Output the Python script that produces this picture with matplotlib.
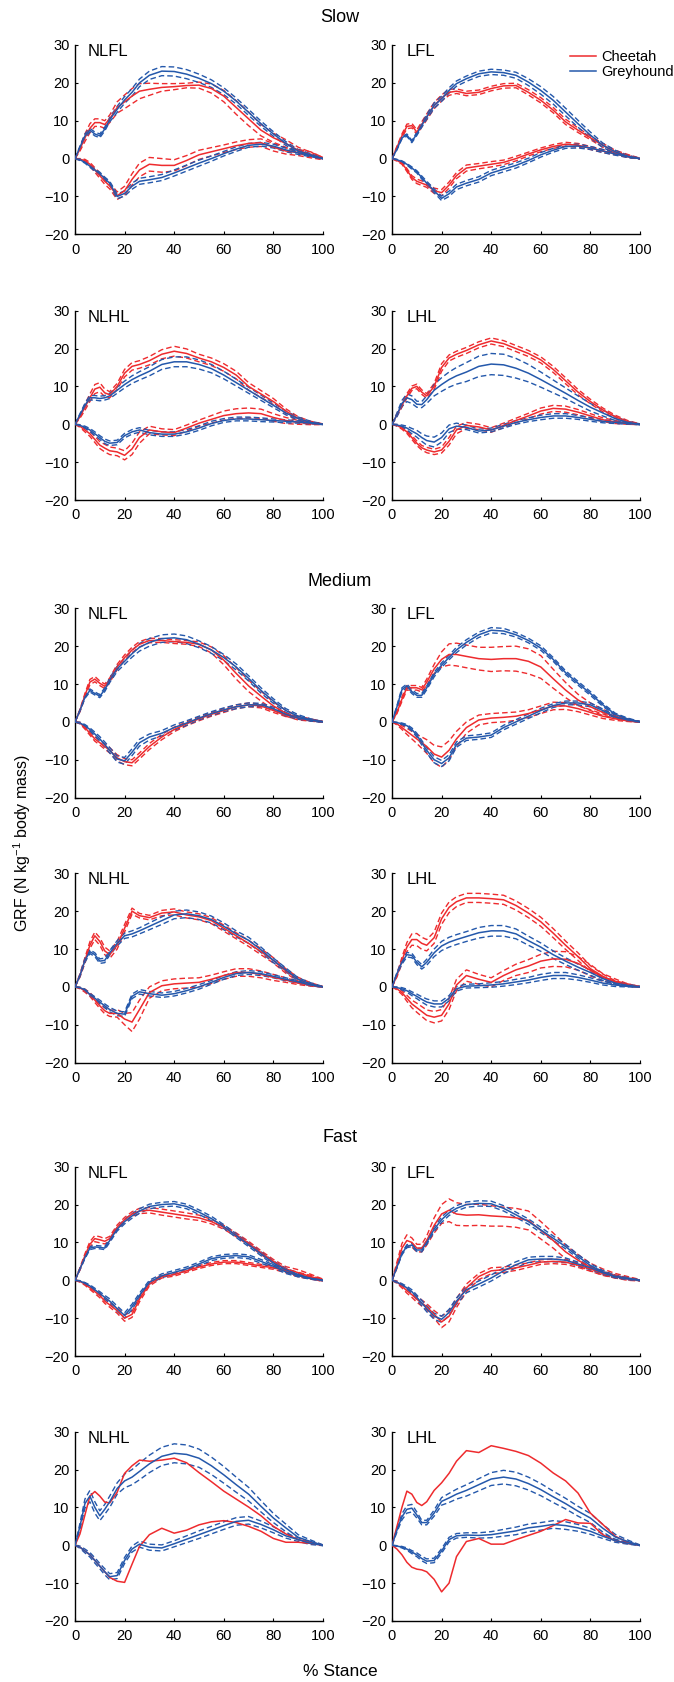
import numpy as np
import matplotlib
matplotlib.use("Agg")
import matplotlib.pyplot as plt

plt.rcParams['font.family'] = ['Liberation Sans', 'DejaVu Sans']
plt.rcParams['mathtext.fontset'] = 'custom'
plt.rcParams['mathtext.rm'] = 'Liberation Sans'
plt.rcParams['mathtext.it'] = 'Liberation Sans:italic'

# % stance sample points
X = [0, 2, 4, 6, 8, 10, 12, 14, 17, 20, 23, 26, 30, 35, 40, 45, 50, 55, 60, 65, 70, 75, 80, 85, 90, 95, 100]

# ---------------- Slow NLFL ----------------
slow_nlfl_gh_v = [0, 3, 6, 7.5, 6.5, 6.0, 7.8, 10.3, 13, 15.5, 17.5, 20, 22, 23.1, 23, 22.3, 21.2, 19.8, 17.8, 15.2, 12.2, 9.2, 6.5, 4.0, 2.0, 1.0, 0]
slow_nlfl_gh_v_sd = [0, 0.3, 0.5, 0.5, 0.5, 0.5, 0.5, 0.6, 0.8, 0.9, 1.0, 1.0, 1.1, 1.2, 1.2, 1.2, 1.1, 1.0, 0.9, 0.8, 0.8, 0.7, 0.6, 0.5, 0.4, 0.3, 0.1]
slow_nlfl_ch_v = [0, 2.5, 5.5, 8, 9.5, 9.5, 9, 10.5, 13.5, 15, 16.5, 17.8, 18.3, 18.8, 19.0, 19.3, 19.4, 18.5, 16.5, 13.5, 10.5, 7.5, 5.5, 4.0, 2.2, 1.1, 0]
slow_nlfl_ch_v_sd = [0, 0.5, 1.0, 1.2, 1.0, 1.0, 1.0, 1.0, 1.5, 1.8, 2.0, 2.0, 1.6, 1.0, 0.8, 0.6, 0.8, 1.2, 1.5, 1.8, 1.8, 1.5, 1.2, 1.0, 0.8, 0.6, 0.3]
slow_nlfl_gh_fa = [0, -0.3, -1, -2, -3, -4, -5.3, -6.5, -10, -9.2, -7.3, -6, -5.6, -5, -3.8, -2.5, -1.2, 0, 1.3, 2.5, 3.5, 3.8, 3.3, 2.3, 1.5, 0.8, 0]
slow_nlfl_gh_fa_sd = [0, 0.2, 0.2, 0.3, 0.3, 0.4, 0.4, 0.5, 0.6, 0.7, 0.8, 0.8, 0.8, 0.8, 0.8, 0.8, 0.8, 0.7, 0.6, 0.6, 0.5, 0.5, 0.5, 0.5, 0.4, 0.3, 0.1]
slow_nlfl_ch_fa = [0, -0.2, -0.5, -1.5, -3, -4.5, -6, -7.2, -9.8, -8.5, -5.5, -3, -1.5, -1.8, -1.8, -0.5, 1.0, 1.8, 2.6, 3.4, 4.0, 4.2, 3.0, 2.0, 1.6, 1.0, 0]
slow_nlfl_ch_fa_sd = [0, 0.2, 0.3, 0.5, 0.6, 0.7, 0.8, 0.8, 1.0, 1.2, 1.5, 1.8, 1.8, 1.8, 1.5, 1.3, 1.2, 1.1, 1.0, 1.0, 1.0, 1.0, 1.0, 0.8, 0.8, 0.8, 0.3]

# ---------------- Slow LFL ----------------
slow_lfl_gh_v = [0, 2.5, 5.5, 6.2, 4.5, 6.5, 8.8, 11, 14, 15.8, 18, 19.8, 21.1, 22.4, 22.9, 22.7, 22, 20.2, 18, 15.4, 12.3, 9.2, 6.2, 3.5, 1.8, 0.6, 0]
slow_lfl_gh_v_sd = [0, 0.2, 0.3, 0.3, 0.3, 0.4, 0.5, 0.6, 0.7, 0.7, 0.7, 0.7, 0.7, 0.7, 0.7, 0.7, 0.8, 0.9, 1.0, 1.0, 1.0, 0.9, 0.8, 0.6, 0.4, 0.3, 0.1]
slow_lfl_ch_v = [0, 3, 6, 8.5, 8.7, 7, 9, 11, 14, 16, 17.5, 17.8, 17.2, 17.5, 18.5, 19.2, 19.3, 17.5, 15.4, 12.8, 9.7, 7.5, 5.5, 3.5, 1.8, 0.8, 0]
slow_lfl_ch_v_sd = [0, 0.3, 0.5, 0.6, 0.6, 0.6, 0.7, 0.8, 0.8, 0.8, 0.8, 0.6, 0.6, 0.6, 0.6, 0.6, 0.6, 0.7, 0.7, 0.7, 0.7, 0.6, 0.5, 0.5, 0.4, 0.3, 0.1]
slow_lfl_gh_fa = [0, -0.3, -0.8, -1.5, -2.5, -3.5, -5, -6.5, -8.5, -10.5, -9.3, -7.5, -6.5, -5.5, -3.8, -2.8, -1.8, -0.5, 1.0, 2.2, 3.2, 3.3, 2.8, 2.0, 1.2, 0.5, 0]
slow_lfl_gh_fa_sd = [0, 0.1, 0.2, 0.2, 0.3, 0.3, 0.4, 0.5, 0.5, 0.6, 0.7, 0.7, 0.7, 0.7, 0.7, 0.7, 0.7, 0.6, 0.6, 0.5, 0.5, 0.5, 0.4, 0.4, 0.3, 0.2, 0.1]
slow_lfl_ch_fa = [0, -0.5, -1.2, -3, -5, -6, -6.5, -7, -8.5, -9, -7, -4.5, -2.5, -2, -1.5, -1.0, 0, 1.2, 2.3, 3.2, 3.8, 3.5, 2.8, 2.0, 1.3, 0.5, 0]
slow_lfl_ch_fa_sd = [0, 0.2, 0.3, 0.4, 0.5, 0.6, 0.6, 0.6, 0.7, 0.8, 0.8, 0.8, 0.8, 0.7, 0.7, 0.6, 0.6, 0.5, 0.5, 0.5, 0.5, 0.5, 0.4, 0.4, 0.3, 0.2, 0.1]

# ---------------- Slow NLHL ----------------
slow_nlhl_gh_v = [0, 2.5, 5, 7, 7, 6.8, 7, 7.5, 9, 10.5, 11.8, 12.8, 14, 15.8, 16.5, 16.5, 15.8, 14.7, 13, 11, 9, 7, 5, 3, 1.5, 0.5, 0]
slow_nlhl_gh_v_sd = [0, 0.3, 0.5, 0.6, 0.6, 0.6, 0.6, 0.7, 0.8, 0.9, 1.0, 1.1, 1.2, 1.3, 1.3, 1.3, 1.2, 1.1, 1.0, 0.9, 0.8, 0.7, 0.6, 0.5, 0.4, 0.3, 0.1]
slow_nlhl_ch_v = [0, 2, 4.5, 7, 9.3, 9.8, 8.3, 7.8, 10, 13.5, 15.3, 15.8, 16.8, 18.5, 19.3, 18.7, 17.5, 16.5, 15, 13, 10, 8, 6, 3.5, 1.5, 0.5, 0]
slow_nlhl_ch_v_sd = [0, 0.4, 0.8, 1.0, 1.2, 1.2, 1.0, 0.8, 0.8, 1.0, 1.0, 1.0, 1.1, 1.2, 1.3, 1.2, 1.0, 1.0, 1.0, 1.0, 1.0, 0.9, 0.8, 0.6, 0.5, 0.3, 0.1]
slow_nlhl_gh_fa = [0, -0.3, -0.8, -1.5, -2.5, -3.5, -4.5, -5, -4.8, -3, -2, -1.5, -2.2, -2.6, -2.6, -2, -1, 0.2, 1, 1.4, 1.4, 1.2, 1.0, 0.8, 0.6, 0.3, 0]
slow_nlhl_gh_fa_sd = [0, 0.2, 0.3, 0.4, 0.5, 0.5, 0.6, 0.6, 0.6, 0.6, 0.6, 0.6, 0.6, 0.6, 0.6, 0.6, 0.6, 0.6, 0.5, 0.5, 0.5, 0.5, 0.4, 0.4, 0.3, 0.2, 0.1]
slow_nlhl_ch_fa = [0, -0.5, -1.5, -2.5, -4, -5.5, -6.3, -7, -7.3, -8.2, -6.5, -3.5, -1.5, -2.0, -2.2, -1, 0.3, 1.3, 2.3, 2.8, 3.0, 2.8, 1.8, 1.0, 0.5, 0.2, 0]
slow_nlhl_ch_fa_sd = [0, 0.3, 0.5, 0.7, 0.8, 0.9, 1.0, 1.0, 1.0, 1.2, 1.5, 1.5, 1.0, 0.8, 0.8, 0.8, 0.8, 1.0, 1.2, 1.3, 1.3, 1.2, 1.0, 0.8, 0.5, 0.3, 0.1]

# ---------------- Slow LHL ----------------
slow_lhl_gh_v = [0, 2.5, 5.5, 7, 6.5, 5.3, 5.2, 6.5, 9, 10.5, 11.8, 12.8, 13.8, 15.3, 15.9, 15.7, 14.8, 13.5, 11.8, 10, 8.2, 6.3, 4.5, 3, 1.5, 0.5, 0]
slow_lhl_gh_v_sd = [0, 0.5, 0.8, 1.0, 1.0, 0.8, 0.8, 1.0, 1.5, 1.8, 2.0, 2.2, 2.5, 2.7, 2.8, 2.8, 2.6, 2.3, 2.0, 1.7, 1.4, 1.2, 1.0, 0.8, 0.5, 0.3, 0.1]
slow_lhl_ch_v = [0, 2.5, 5, 7.5, 9.5, 10, 8.5, 7.5, 10, 15, 17.5, 18.5, 19.5, 21, 22, 21.3, 20, 18.7, 17, 14.5, 11.5, 8.5, 6, 3.8, 2, 0.7, 0]
slow_lhl_ch_v_sd = [0, 0.3, 0.5, 0.6, 0.6, 0.6, 0.6, 0.6, 0.8, 1.0, 0.8, 0.8, 0.8, 0.8, 0.8, 0.8, 0.8, 0.8, 0.8, 0.8, 0.8, 0.7, 0.6, 0.5, 0.4, 0.3, 0.1]
slow_lhl_gh_fa = [0, -0.2, -0.5, -1, -1.8, -2.5, -3.5, -4.3, -4.7, -3.5, -1.2, -0.5, -0.8, -1.8, -1.5, -0.5, 0.5, 1.2, 1.8, 2.2, 2.2, 1.8, 1.3, 0.8, 0.5, 0.2, 0]
slow_lhl_gh_fa_sd = [0, 0.2, 0.3, 0.5, 0.7, 0.9, 1.0, 1.2, 1.3, 1.2, 1.0, 0.8, 0.6, 0.5, 0.5, 0.5, 0.5, 0.5, 0.6, 0.6, 0.6, 0.5, 0.5, 0.4, 0.3, 0.2, 0.1]
slow_lhl_ch_fa = [0, -0.3, -1.0, -2, -3.5, -5, -6.2, -6.8, -7.3, -6.8, -4.5, -1.5, -0.3, -0.7, -1.5, -0.3, 1.0, 2.2, 3.5, 4.2, 4.0, 3.2, 2.2, 1.2, 0.6, 0.2, 0]
slow_lhl_ch_fa_sd = [0, 0.2, 0.3, 0.4, 0.5, 0.6, 0.6, 0.7, 0.7, 0.8, 1.0, 1.0, 0.8, 0.7, 0.6, 0.6, 0.6, 0.7, 0.8, 0.8, 0.8, 0.7, 0.6, 0.5, 0.4, 0.2, 0.1]

# ---------------- Medium NLFL ----------------
med_nlfl_gh_v = [0, 3, 6.5, 8.3, 7.5, 6.8, 8.5, 11, 14, 16, 18, 19.7, 21, 22, 22.2, 21.7, 20.5, 19, 17, 14.5, 11.5, 8.3, 5.5, 3, 1.5, 0.5, 0]
med_nlfl_gh_v_sd = [0, 0.2, 0.3, 0.4, 0.4, 0.4, 0.5, 0.6, 0.7, 0.8, 0.9, 1.0, 1.0, 1.0, 1.0, 1.0, 0.9, 0.9, 0.8, 0.8, 0.7, 0.7, 0.6, 0.5, 0.4, 0.3, 0.1]
med_nlfl_ch_v = [0, 3, 7, 10.5, 11.3, 10.2, 9.4, 11, 14.5, 17, 19, 20.5, 21.5, 21.5, 21.2, 21, 20.5, 19, 16.3, 12.8, 9.5, 6.8, 4.2, 2.3, 1, 0.5, 0]
med_nlfl_ch_v_sd = [0, 0.3, 0.5, 0.7, 0.7, 0.6, 0.6, 0.6, 0.7, 0.7, 0.7, 0.7, 0.6, 0.5, 0.5, 0.5, 0.6, 0.8, 1.2, 1.5, 1.5, 1.3, 1.0, 0.8, 0.5, 0.3, 0.1]
med_nlfl_gh_fa = [0, -0.3, -1, -2, -3.2, -4.5, -6, -7.5, -9.8, -10.3, -8, -5.5, -4, -3, -1.5, -0.3, 1, 2.2, 3.2, 4, 4.5, 4.5, 3.5, 2, 1, 0.5, 0]
med_nlfl_gh_fa_sd = [0, 0.2, 0.3, 0.4, 0.5, 0.6, 0.7, 0.7, 0.8, 0.9, 0.9, 0.9, 0.8, 0.7, 0.7, 0.6, 0.5, 0.5, 0.5, 0.5, 0.5, 0.4, 0.4, 0.4, 0.3, 0.2, 0.1]
med_nlfl_ch_fa = [0, -0.3, -1.5, -3, -4.5, -5.5, -6.5, -7.5, -9.5, -10.5, -10.8, -9, -6.5, -4, -2, -0.5, 0.8, 2, 3, 4, 4.5, 4.2, 3, 1.8, 1, 0.5, 0]
med_nlfl_ch_fa_sd = [0, 0.2, 0.4, 0.5, 0.6, 0.6, 0.7, 0.7, 0.8, 0.8, 0.8, 0.8, 0.8, 0.7, 0.6, 0.5, 0.5, 0.5, 0.5, 0.5, 0.5, 0.5, 0.5, 0.4, 0.3, 0.2, 0.1]

# ---------------- Medium LFL ----------------
med_lfl_gh_v = [0, 4, 8.5, 9.5, 8, 7, 7, 9, 12.5, 15, 17, 19, 21, 23, 24.2, 24, 23, 21.5, 19.5, 16.5, 13, 10.2, 7.5, 4.5, 2, 0.8, 0]
med_lfl_gh_v_sd = [0, 0.3, 0.5, 0.5, 0.5, 0.5, 0.5, 0.5, 0.6, 0.6, 0.6, 0.7, 0.7, 0.7, 0.7, 0.7, 0.6, 0.6, 0.6, 0.5, 0.5, 0.5, 0.5, 0.4, 0.3, 0.2, 0.1]
med_lfl_ch_v = [0, 2.5, 6, 9, 9, 9, 8.5, 10.5, 14, 16.5, 17.8, 17.8, 17.3, 16.7, 16.5, 16.7, 16.7, 16, 14.5, 11.4, 8.4, 5.8, 4, 2.5, 1.5, 0.5, 0]
med_lfl_ch_v_sd = [0, 0.3, 0.6, 0.6, 0.6, 0.6, 0.6, 0.8, 1.2, 2.0, 2.8, 3.0, 3.0, 3.0, 3.2, 3.2, 3.3, 3.3, 3.0, 2.5, 2.0, 1.5, 1.0, 0.8, 0.5, 0.3, 0.1]
med_lfl_gh_fa = [0, -0.2, -0.5, -1, -2, -3.5, -5.5, -7.5, -10, -11, -9.5, -6, -4.3, -4, -3.5, -1.5, 0, 1.5, 3, 4.3, 5, 5, 4.5, 3, 1.3, 0.5, 0]
med_lfl_gh_fa_sd = [0, 0.1, 0.2, 0.3, 0.4, 0.5, 0.6, 0.7, 0.8, 0.8, 0.8, 0.7, 0.6, 0.6, 0.6, 0.6, 0.6, 0.6, 0.6, 0.5, 0.5, 0.5, 0.5, 0.4, 0.3, 0.2, 0.1]
med_lfl_ch_fa = [0, -0.5, -1.5, -2.5, -3.5, -4.5, -5.5, -6.5, -8.5, -9.3, -7.5, -4.5, -1.5, 0.5, 1.0, 1.2, 1.5, 2.2, 3.2, 4.2, 4.2, 3.5, 2.5, 1.5, 0.8, 0.3, 0]
med_lfl_ch_fa_sd = [0, 0.3, 0.5, 0.8, 1.0, 1.2, 1.5, 1.8, 2.3, 2.7, 2.5, 2.0, 1.5, 1.3, 1.2, 1.2, 1.1, 1.0, 1.0, 1.0, 0.9, 0.8, 0.7, 0.6, 0.4, 0.2, 0.1]

# ---------------- Medium NLHL ----------------
med_nlhl_gh_v = [0, 3, 7, 9.3, 8.5, 6.8, 7, 9, 11.5, 13.5, 14, 14.8, 16, 17.5, 19, 19.3, 18.8, 17.8, 16, 14, 12.3, 9.8, 7, 4.5, 2, 0.8, 0]
med_nlhl_gh_v_sd = [0, 0.3, 0.5, 0.5, 0.5, 0.6, 0.6, 0.6, 0.7, 0.7, 0.8, 0.8, 0.9, 1.0, 1.0, 1.0, 1.0, 0.9, 0.9, 0.8, 0.8, 0.7, 0.6, 0.5, 0.4, 0.3, 0.1]
med_nlhl_ch_v = [0, 3, 7, 11, 13.5, 12, 9.5, 8.5, 11, 15.5, 20, 18.8, 18.3, 19.5, 19.8, 19, 18.5, 17.5, 15.5, 13.5, 11.5, 9.3, 7, 4.2, 2, 0.8, 0]
med_nlhl_ch_v_sd = [0, 0.4, 0.7, 0.9, 1.0, 1.0, 1.0, 1.0, 1.0, 1.0, 0.8, 0.6, 0.6, 0.7, 0.8, 0.8, 0.8, 0.8, 0.8, 0.8, 0.8, 0.8, 0.7, 0.6, 0.5, 0.3, 0.1]
med_nlhl_gh_fa = [0, -0.2, -0.8, -2, -3, -4, -5, -6, -7, -7.2, -2.5, -1.3, -1.8, -2.2, -1.8, -1, 0, 1.2, 2.5, 3.5, 3.8, 3.5, 2.8, 2, 1.3, 0.5, 0]
med_nlhl_gh_fa_sd = [0, 0.1, 0.2, 0.3, 0.4, 0.5, 0.5, 0.6, 0.6, 0.6, 0.6, 0.6, 0.6, 0.6, 0.6, 0.6, 0.6, 0.5, 0.5, 0.5, 0.5, 0.5, 0.4, 0.4, 0.3, 0.2, 0.1]
med_nlhl_ch_fa = [0, -0.3, -1, -2, -3.5, -5, -6.3, -7, -7, -8.5, -9.3, -6, -1.5, 0.3, 0.8, 1, 1.2, 2, 3, 3.8, 3.8, 3.3, 2.5, 1.8, 1, 0.4, 0]
med_nlhl_ch_fa_sd = [0, 0.2, 0.4, 0.5, 0.6, 0.7, 0.8, 0.8, 1.0, 1.5, 2.5, 2.5, 1.5, 1.3, 1.3, 1.3, 1.2, 1.1, 1.0, 1.0, 1.0, 0.9, 0.8, 0.6, 0.4, 0.2, 0.1]

# ---------------- Medium LHL ----------------
med_lhl_gh_v = [0, 3.5, 6.5, 8.5, 8.3, 6.5, 5.3, 6.5, 9, 10.8, 11.8, 12.5, 13.3, 14.3, 14.8, 14.8, 14, 12.2, 10.5, 8.5, 6.8, 5.2, 3.8, 2.2, 1, 0.4, 0]
med_lhl_gh_v_sd = [0, 0.3, 0.5, 0.6, 0.6, 0.6, 0.6, 0.8, 1.0, 1.2, 1.3, 1.3, 1.3, 1.4, 1.4, 1.4, 1.3, 1.2, 1.1, 1.0, 0.9, 0.8, 0.7, 0.5, 0.4, 0.3, 0.1]
med_lhl_ch_v = [0, 3, 7, 10.5, 12.5, 12.5, 11.5, 11, 13, 18, 21, 22.5, 23.5, 23.5, 23.3, 23, 21.5, 19.5, 17.2, 14.2, 11, 8, 4.8, 2.8, 1.2, 0.5, 0]
med_lhl_ch_v_sd = [0, 0.4, 0.8, 1.2, 1.5, 1.6, 1.6, 1.5, 1.5, 1.5, 1.4, 1.3, 1.2, 1.2, 1.2, 1.2, 1.2, 1.2, 1.2, 1.2, 1.1, 1.0, 0.8, 0.6, 0.4, 0.3, 0.1]
med_lhl_gh_fa = [0, -0.2, -0.5, -1, -1.8, -2.5, -3.3, -4, -4.5, -4.5, -3, -0.5, 0.2, 0.3, 0.5, 0.8, 1.3, 1.8, 2.5, 3, 3, 2.5, 1.8, 1, 0.5, 0.2, 0]
med_lhl_gh_fa_sd = [0, 0.2, 0.3, 0.4, 0.5, 0.6, 0.7, 0.8, 0.8, 0.8, 0.7, 0.6, 0.5, 0.5, 0.6, 0.6, 0.7, 0.7, 0.8, 0.8, 0.8, 0.7, 0.6, 0.5, 0.4, 0.2, 0.1]
med_lhl_ch_fa = [0, -0.5, -1.5, -3, -4.5, -5.5, -6.5, -7.5, -8, -7.5, -4.5, 0.5, 3, 2, 1.2, 3, 4.5, 5.5, 6.8, 7.4, 7.3, 6.2, 4.4, 2.5, 1.5, 0.5, 0]
med_lhl_ch_fa_sd = [0, 0.3, 0.5, 0.8, 1.0, 1.2, 1.3, 1.4, 1.5, 1.5, 1.5, 1.5, 1.5, 1.3, 1.2, 1.3, 1.5, 1.7, 1.8, 2.0, 2.0, 1.8, 1.5, 1.0, 0.6, 0.3, 0.1]

# ---------------- Fast NLFL ----------------
fast_nlfl_gh_v = [0, 3, 6, 8.5, 8.8, 8.7, 8.5, 10.5, 13.5, 15.5, 17, 18.3, 19.5, 20, 20.2, 19.5, 18, 16.3, 14.2, 11.8, 9.4, 7, 4.6, 2.8, 1.5, 0.5, 0]
fast_nlfl_gh_v_sd = [0, 0.2, 0.3, 0.4, 0.4, 0.4, 0.4, 0.5, 0.5, 0.6, 0.6, 0.6, 0.6, 0.6, 0.6, 0.6, 0.6, 0.6, 0.5, 0.5, 0.5, 0.5, 0.5, 0.4, 0.3, 0.2, 0.1]
fast_nlfl_ch_v = [0, 3, 6.5, 9.5, 11, 10.7, 10.3, 11, 14, 16, 17.5, 18.3, 18.5, 18, 17.5, 17, 16.5, 15.5, 14, 12, 9.8, 7.3, 5, 3, 2, 1, 0]
fast_nlfl_ch_v_sd = [0, 0.3, 0.5, 0.7, 0.8, 0.8, 0.7, 0.6, 0.6, 0.6, 0.6, 0.7, 0.7, 0.8, 0.8, 0.8, 0.7, 0.6, 0.5, 0.5, 0.5, 0.5, 0.5, 0.6, 0.8, 0.6, 0.3]
fast_nlfl_gh_fa = [0, -0.2, -0.8, -1.5, -2.5, -3.5, -4.5, -5.5, -7.5, -9.3, -7, -4, -0.5, 1.2, 2.1, 3, 4.3, 5.7, 6.3, 6.5, 6.2, 5, 3.7, 2.2, 1.2, 0.5, 0]
fast_nlfl_gh_fa_sd = [0, 0.1, 0.2, 0.3, 0.4, 0.5, 0.5, 0.6, 0.7, 0.7, 0.7, 0.6, 0.5, 0.5, 0.5, 0.5, 0.5, 0.5, 0.5, 0.5, 0.5, 0.5, 0.4, 0.4, 0.3, 0.2, 0.1]
fast_nlfl_ch_fa = [0, -0.3, -1, -2, -3, -4, -5.5, -6.5, -8, -10, -9, -5, -1, 1, 1.5, 2.5, 3.5, 4.3, 4.8, 4.8, 4.3, 3.8, 3.3, 2.5, 1.5, 0.8, 0]
fast_nlfl_ch_fa_sd = [0, 0.2, 0.3, 0.4, 0.5, 0.6, 0.6, 0.6, 0.7, 0.8, 0.8, 0.7, 0.5, 0.4, 0.4, 0.4, 0.4, 0.4, 0.4, 0.4, 0.4, 0.4, 0.4, 0.5, 0.6, 0.5, 0.2]

# ---------------- Fast LFL ----------------
fast_lfl_gh_v = [0, 3.5, 7, 9, 9.3, 8, 8, 10, 13.5, 16, 17.8, 19, 20, 20.3, 20.2, 19, 17.3, 15.5, 13.3, 11.1, 8.9, 6.3, 3.9, 2.2, 1, 0.5, 0]
fast_lfl_gh_v_sd = [0, 0.2, 0.3, 0.4, 0.4, 0.4, 0.5, 0.5, 0.6, 0.7, 0.7, 0.7, 0.7, 0.7, 0.7, 0.7, 0.7, 0.7, 0.7, 0.6, 0.6, 0.5, 0.5, 0.4, 0.3, 0.2, 0.1]
fast_lfl_ch_v = [0, 4, 8.5, 10.5, 10, 8.5, 8.5, 10.5, 14.5, 17.5, 18.5, 17.5, 17.2, 17.3, 17, 16.8, 16.5, 15.8, 13.2, 10.5, 7.5, 5.3, 3.5, 2.2, 1.2, 0.5, 0]
fast_lfl_ch_v_sd = [0, 0.8, 1.2, 1.5, 1.2, 1.0, 1.0, 1.2, 2.0, 2.5, 3.0, 3.0, 2.8, 2.8, 2.7, 2.5, 2.5, 2.5, 2.3, 2.0, 1.8, 1.5, 1.0, 0.8, 0.6, 0.5, 0.2]
fast_lfl_gh_fa = [0, -0.5, -1.2, -2, -3, -4.5, -6, -7.5, -9.5, -10.3, -8.5, -5.5, -2.5, -1, 0.6, 2.5, 4.1, 5.4, 5.6, 5.6, 5.3, 4.3, 3.3, 2, 1, 0.4, 0]
fast_lfl_gh_fa_sd = [0, 0.2, 0.3, 0.4, 0.5, 0.6, 0.7, 0.8, 0.8, 0.8, 0.8, 0.8, 0.8, 0.8, 0.8, 0.8, 0.8, 0.7, 0.7, 0.7, 0.6, 0.5, 0.5, 0.4, 0.3, 0.2, 0.1]
fast_lfl_ch_fa = [0, -0.5, -1.5, -2.8, -3.8, -5, -6, -7, -9, -11, -9.5, -6, -2, 1, 2.5, 2.8, 3.3, 4, 4.8, 5, 4.8, 4, 3, 1.8, 1, 0.4, 0]
fast_lfl_ch_fa_sd = [0, 0.3, 0.5, 0.6, 0.7, 0.8, 0.8, 0.8, 1.0, 1.5, 1.5, 1.2, 1.0, 0.8, 0.8, 0.7, 0.7, 0.6, 0.6, 0.6, 0.6, 0.6, 0.6, 0.5, 0.4, 0.3, 0.1]

# ---------------- Fast NLHL ----------------
fast_nlhl_gh_v = [0, 5, 11, 13, 10, 7.8, 9.5, 11.5, 15, 17, 18, 19.5, 21.5, 23.5, 24.3, 24, 23, 21, 18.6, 16, 13.5, 10.3, 7.2, 4.6, 2.1, 1, 0]
fast_nlhl_gh_v_sd = [0, 0.8, 1.2, 1.5, 1.5, 1.3, 1.3, 1.5, 1.5, 1.8, 2.0, 2.2, 2.3, 2.4, 2.5, 2.5, 2.4, 2.3, 2.2, 2.0, 1.8, 1.5, 1.2, 1.0, 0.7, 0.4, 0.1]
fast_nlhl_ch_v = [0, 3, 8, 13, 14.2, 13, 11.4, 11.2, 14, 19, 21, 22.5, 22.2, 22.5, 23, 21.8, 19.2, 16.8, 14.3, 12.2, 10.1, 7.8, 5, 3, 1.5, 0.8, 0]
fast_nlhl_ch_v_sd = None
fast_nlhl_gh_fa = [0, -0.5, -1.5, -2.5, -4, -5.5, -7, -8.3, -8, -4, -1, 0.3, -0.5, -0.7, 0.4, 1.6, 2.8, 4, 5.2, 6.3, 6.6, 5.5, 4.1, 2.5, 1.5, 0.5, 0]
fast_nlhl_gh_fa_sd = [0, 0.3, 0.5, 0.6, 0.7, 0.7, 0.8, 0.8, 0.8, 0.8, 0.8, 0.8, 0.8, 0.8, 0.8, 0.9, 1.0, 1.0, 1.0, 1.0, 1.0, 0.9, 0.8, 0.6, 0.5, 0.3, 0.1]
fast_nlhl_ch_fa = [0, -0.5, -1.5, -2.5, -4, -5.5, -7, -8.5, -9.5, -9.8, -5, -0.3, 2.8, 4.5, 3.2, 4, 5.4, 6.2, 6.5, 6, 5, 3.7, 1.8, 0.8, 0.8, 0.5, 0]
fast_nlhl_ch_fa_sd = None

# ---------------- Fast LHL ----------------
fast_lhl_gh_v = [0, 4, 7.5, 9.5, 9.8, 8, 6, 6, 8.5, 11.6, 12.5, 13.5, 14.5, 16, 17.5, 18, 17.5, 16.3, 14.7, 12.8, 11, 9, 7.2, 4.5, 2.2, 1, 0]
fast_lhl_gh_v_sd = [0, 0.5, 0.8, 1.0, 1.0, 0.8, 0.6, 0.6, 0.8, 1.0, 1.2, 1.3, 1.5, 1.6, 1.7, 1.8, 1.8, 1.7, 1.6, 1.5, 1.4, 1.3, 1.2, 1.0, 0.7, 0.4, 0.1]
fast_lhl_ch_v = [0, 5, 10, 14.3, 13.5, 11.3, 10.5, 11.5, 14.5, 16.5, 19, 22.2, 25, 24.5, 26.3, 25.6, 24.8, 23.7, 21.7, 19.1, 17, 13.8, 8.5, 5.5, 2.4, 0.8, 0]
fast_lhl_ch_v_sd = None
fast_lhl_gh_fa = [0, -0.2, -0.5, -1, -1.8, -2.5, -3.5, -4.2, -4, -1.5, 1.5, 2.5, 2.7, 2.6, 2.8, 3.3, 3.8, 4.6, 5, 5.5, 5.2, 4.6, 3.7, 2.4, 1.2, 0.5, 0]
fast_lhl_gh_fa_sd = [0, 0.1, 0.2, 0.3, 0.4, 0.5, 0.6, 0.6, 0.6, 0.6, 0.6, 0.6, 0.6, 0.7, 0.8, 0.9, 1.0, 1.0, 1.0, 1.0, 1.0, 0.9, 0.8, 0.6, 0.4, 0.2, 0.1]
fast_lhl_ch_fa = [0, -1, -2.5, -4.5, -5.8, -6.3, -6.5, -7, -9, -12.3, -10, -3, 1, 1.8, 0.3, 0.3, 1.5, 2.6, 3.7, 5.2, 6.8, 5.9, 5.8, 2.8, 1.2, 0.5, 0]
fast_lhl_ch_fa_sd = None

speed_titles = ["Slow", "Medium", "Fast"]
limb_labels = ["NLFL", "LFL", "NLHL", "LHL"]
x_ticks = [0, 20, 40, 60, 80, 100]
y_ticks = [-20, -10, 0, 10, 20, 30]

panels = [
    (slow_nlfl_ch_v, slow_nlfl_ch_v_sd, slow_nlfl_ch_fa, slow_nlfl_ch_fa_sd, slow_nlfl_gh_v, slow_nlfl_gh_v_sd, slow_nlfl_gh_fa, slow_nlfl_gh_fa_sd),
    (slow_lfl_ch_v, slow_lfl_ch_v_sd, slow_lfl_ch_fa, slow_lfl_ch_fa_sd, slow_lfl_gh_v, slow_lfl_gh_v_sd, slow_lfl_gh_fa, slow_lfl_gh_fa_sd),
    (slow_nlhl_ch_v, slow_nlhl_ch_v_sd, slow_nlhl_ch_fa, slow_nlhl_ch_fa_sd, slow_nlhl_gh_v, slow_nlhl_gh_v_sd, slow_nlhl_gh_fa, slow_nlhl_gh_fa_sd),
    (slow_lhl_ch_v, slow_lhl_ch_v_sd, slow_lhl_ch_fa, slow_lhl_ch_fa_sd, slow_lhl_gh_v, slow_lhl_gh_v_sd, slow_lhl_gh_fa, slow_lhl_gh_fa_sd),
    (med_nlfl_ch_v, med_nlfl_ch_v_sd, med_nlfl_ch_fa, med_nlfl_ch_fa_sd, med_nlfl_gh_v, med_nlfl_gh_v_sd, med_nlfl_gh_fa, med_nlfl_gh_fa_sd),
    (med_lfl_ch_v, med_lfl_ch_v_sd, med_lfl_ch_fa, med_lfl_ch_fa_sd, med_lfl_gh_v, med_lfl_gh_v_sd, med_lfl_gh_fa, med_lfl_gh_fa_sd),
    (med_nlhl_ch_v, med_nlhl_ch_v_sd, med_nlhl_ch_fa, med_nlhl_ch_fa_sd, med_nlhl_gh_v, med_nlhl_gh_v_sd, med_nlhl_gh_fa, med_nlhl_gh_fa_sd),
    (med_lhl_ch_v, med_lhl_ch_v_sd, med_lhl_ch_fa, med_lhl_ch_fa_sd, med_lhl_gh_v, med_lhl_gh_v_sd, med_lhl_gh_fa, med_lhl_gh_fa_sd),
    (fast_nlfl_ch_v, fast_nlfl_ch_v_sd, fast_nlfl_ch_fa, fast_nlfl_ch_fa_sd, fast_nlfl_gh_v, fast_nlfl_gh_v_sd, fast_nlfl_gh_fa, fast_nlfl_gh_fa_sd),
    (fast_lfl_ch_v, fast_lfl_ch_v_sd, fast_lfl_ch_fa, fast_lfl_ch_fa_sd, fast_lfl_gh_v, fast_lfl_gh_v_sd, fast_lfl_gh_fa, fast_lfl_gh_fa_sd),
    (fast_nlhl_ch_v, fast_nlhl_ch_v_sd, fast_nlhl_ch_fa, fast_nlhl_ch_fa_sd, fast_nlhl_gh_v, fast_nlhl_gh_v_sd, fast_nlhl_gh_fa, fast_nlhl_gh_fa_sd),
    (fast_lhl_ch_v, fast_lhl_ch_v_sd, fast_lhl_ch_fa, fast_lhl_ch_fa_sd, fast_lhl_gh_v, fast_lhl_gh_v_sd, fast_lhl_gh_fa, fast_lhl_gh_fa_sd),
]

RED = '#ee2b2e'
BLUE = '#2458ab'
W, H = 674, 1682
fig = plt.figure(figsize=(W / 100, H / 100), dpi=100)

col_left = [75, 392]
ax_w = 248
ax_h = 189.3
row_top = [45, 310.7, 608.3, 873.3, 1166.7, 1431.7]

xs = np.array(X, dtype=float)


def draw_series(ax, mean, sd, color, label=None):
    m = np.array(mean, dtype=float)
    line, = ax.plot(xs, m, color=color, lw=1.1, solid_joinstyle='round', label=label, zorder=3)
    if sd is not None:
        s = np.array(sd, dtype=float)
        for sign in (1, -1):
            ax.plot(xs, m + sign * s, color=color, lw=1.0, ls=(0, (4, 2.2)), zorder=2)
    return line


legend_handles = []
for i, data in enumerate(panels):
    row, col = divmod(i, 2)
    left = col_left[col] / W
    bottom = 1 - (row_top[row] + ax_h) / H
    ax = fig.add_axes([left, bottom, ax_w / W, ax_h / H])
    ch_v, ch_v_sd, ch_fa, ch_fa_sd, gh_v, gh_v_sd, gh_fa, gh_fa_sd = data
    l1 = draw_series(ax, ch_v, ch_v_sd, RED, 'Cheetah')
    draw_series(ax, ch_fa, ch_fa_sd, RED)
    l2 = draw_series(ax, gh_v, gh_v_sd, BLUE, 'Greyhound')
    draw_series(ax, gh_fa, gh_fa_sd, BLUE)
    if i == 1:
        legend_handles = [l1, l2]
    ax.set_xlim(0, 100)
    ax.set_ylim(-20, 30)
    ax.set_xticks(x_ticks)
    ax.set_yticks(y_ticks)
    for s in ['top', 'right']:
        ax.spines[s].set_visible(False)
    for s in ['left', 'bottom']:
        ax.spines[s].set_linewidth(1.0)
    ax.tick_params(direction='in', length=2.5, width=0.8, labelsize=10.5)
    ax.tick_params(axis='x', pad=6)
    ax.tick_params(axis='y', pad=4)
    ax.patch.set_visible(False)
    ax.text(5 if col == 0 else 6, 28.3, limb_labels[row % 2 * 2 + col], fontsize=12, va='center', ha='left')

fig.legend(handles=legend_handles, labels=['Cheetah', 'Greyhound'], loc='upper left',
           bbox_to_anchor=(570 / W, 1 - 50 / H), frameon=False, fontsize=10.5,
           handlelength=1.75, handletextpad=0.4, labelspacing=0.05, borderpad=0, borderaxespad=0)

title_y = [18, 581, 1138]
for t, y in zip(speed_titles, title_y):
    fig.text(340 / W, 1 - y / H, t, ha='center', va='center', fontsize=13)

fig.text(22 / W, 1 - 843 / H, r'GRF (N kg$^{\mathrm{-1}}$ body mass)', rotation=90,
         ha='center', va='center', fontsize=11.5)
fig.text(340 / W, 1 - 1671 / H, '% Stance', ha='center', va='center', fontsize=12.5)

fig.savefig('out.png', dpi=100)
